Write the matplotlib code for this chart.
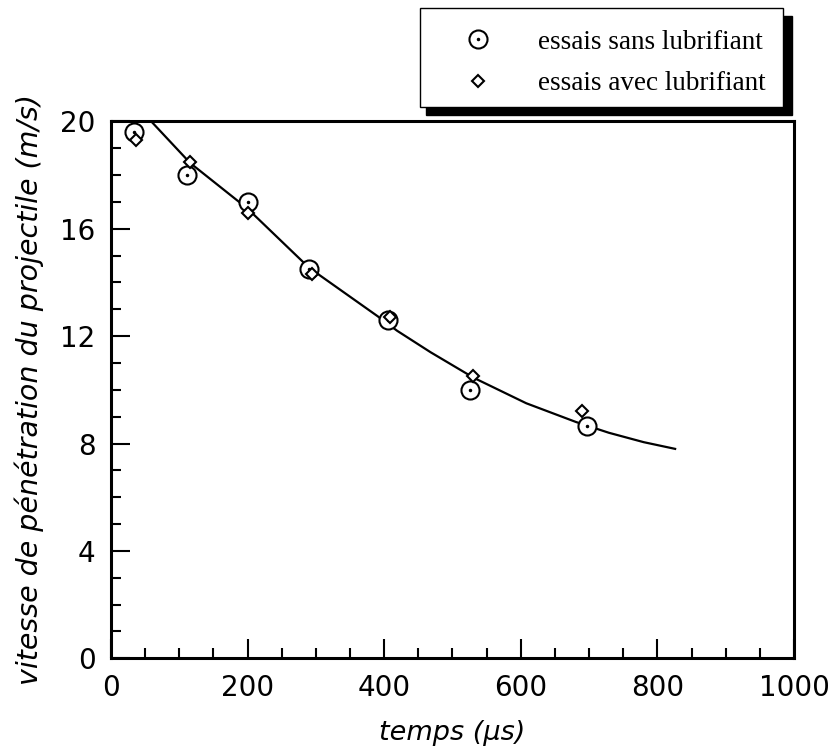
import matplotlib.pyplot as plt
import numpy as np
from matplotlib.patches import Rectangle
from matplotlib.legend_handler import HandlerTuple
from matplotlib.ticker import MultipleLocator

# essais sans lubrifiant (circles)
t_sans = [34, 112, 200, 290, 405, 525, 697]
v_sans = [19.6, 18.0, 17.0, 14.5, 12.6, 10.0, 8.65]

# essais avec lubrifiant (diamonds)
t_avec = [37, 116, 200, 295, 409, 530, 690]
v_avec = [19.3, 18.5, 16.6, 14.3, 12.7, 10.5, 9.2]

# fitted curve
t_fit = [59, 116, 200, 290, 390, 419, 468, 531, 608, 681, 729, 780, 826]
v_fit = [20.0, 18.45, 16.75, 14.55, 12.75, 12.2, 11.4, 10.45, 9.5, 8.8, 8.4, 8.05, 7.8]

fig = plt.figure(figsize=(8.34, 7.54), dpi=100)
ax = fig.add_axes([0.133, 0.127, 0.819, 0.712])

ax.plot(t_fit, v_fit, color='black', lw=1.6, zorder=2, clip_on=True)
circ, = ax.plot(t_sans, v_sans, 'o', ms=13, mfc='white', mec='black', mew=1.5, zorder=3)
dot, = ax.plot(t_sans, v_sans, 'o', ms=1.5, color='black', zorder=3)
diam, = ax.plot(t_avec, v_avec, 'D', ms=6.5, mfc='white', mec='black', mew=1.5, zorder=4)

ax.set_xlim(0, 1000)
ax.set_ylim(0, 20)
ax.set_xticks([0, 200, 400, 600, 800, 1000])
ax.set_yticks([0, 4, 8, 12, 16, 20])
ax.xaxis.set_minor_locator(MultipleLocator(50))
ax.yaxis.set_minor_locator(MultipleLocator(1))
ax.tick_params(which='both', direction='in', top=False, right=False, width=1.5)
ax.tick_params(which='major', length=14, labelsize=20, pad=11)
ax.tick_params(which='minor', length=7)
for s in ax.spines.values():
    s.set_linewidth(2.2)

ax.set_xlabel('temps (µs)', fontsize=19.5, style='italic', labelpad=13)
ax.set_ylabel('vitesse de pénétration du projectile (m/s)', fontsize=20.5, style='italic', labelpad=12)

# legend frame with hard black shadow
fig.patches.append(Rectangle((0.5108, 0.8475), 0.4390, 0.1313, transform=fig.transFigure,
                             facecolor='black', edgecolor='black', zorder=1))
fig.patches.append(Rectangle((0.5036, 0.8581), 0.4353, 0.1313, transform=fig.transFigure,
                             facecolor='white', edgecolor='black', lw=1, zorder=2))

fig.legend([(circ, dot), diam], ['essais sans lubrifiant', 'essais avec lubrifiant'],
           handler_map={tuple: HandlerTuple(ndivide=1, pad=0)},
           loc='center left', bbox_to_anchor=(0.557, 0.9164), frameon=False,
           prop={'family': 'Liberation Serif', 'size': 19.5},
           handlelength=1.0, handletextpad=1.7, labelspacing=0.6, borderpad=0,
           borderaxespad=0)

fig.savefig('out.png', dpi=100)
